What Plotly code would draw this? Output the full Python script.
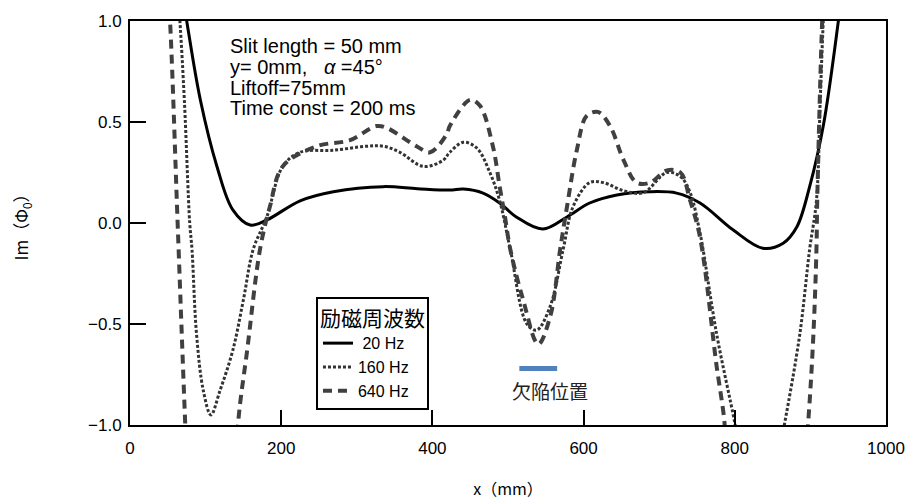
import plotly.graph_objects as go

# ---- data ----
x_20 = [60, 75, 93, 115, 136, 159, 181, 225, 269, 335, 380, 423, 441, 467, 489, 511,
        546, 578, 608, 644, 688, 723, 754, 798, 837, 864, 882, 899, 917, 937, 950]
y_20 = [1.35, 1.0, 0.61, 0.28, 0.065, -0.01, 0.015, 0.11, 0.155, 0.18, 0.17, 0.163, 0.168,
        0.148, 0.099, 0.03, -0.03, 0.03, 0.099, 0.139, 0.155, 0.148, 0.099, -0.035, -0.125,
        -0.1, -0.02, 0.18, 0.48, 1.0, 1.4]

x_160 = [60, 66, 72, 79, 82, 88, 97, 107, 119, 136, 150, 163, 181, 202, 225, 269, 313, 335,
         357, 388, 414, 423, 441, 459, 476, 489, 503, 525, 538, 556, 573, 586, 608, 626, 653,
         679, 710, 728, 741, 754, 758, 776, 800, 810, 833, 855, 866, 886, 899, 908, 913, 917, 922]
y_160 = [1.3, 1.0, 0.6, 0.0, -0.13, -0.55, -0.83, -0.95, -0.83, -0.63, -0.38, -0.13, 0.03,
         0.28, 0.35, 0.36, 0.38, 0.38, 0.35, 0.28, 0.31, 0.35, 0.40, 0.37, 0.25, 0.11, -0.13,
         -0.5, -0.53, -0.41, -0.13, 0.08, 0.2, 0.2, 0.16, 0.15, 0.25, 0.23, 0.15, -0.05, -0.13,
         -0.55, -0.99, -1.2, -1.5, -1.2, -0.99, -0.55, -0.13, 0.11, 0.61, 1.0, 1.4]

x_640 = [45, 53, 63, 73, 80, 108, 135, 143, 155, 172, 185, 202, 247, 291, 326, 340, 379, 397,
         419, 423, 450, 463, 480, 489, 496, 503, 520, 540, 556, 569, 578, 591, 604, 619, 635,
         653, 670, 688, 710, 728, 741, 754, 776, 785, 795, 840, 885, 897, 904, 908, 909, 915, 920]
y_640 = [1.5, 1.0, 0.0, -0.99, -1.6, -1.9, -1.6, -0.99, -0.63, -0.13, 0.08, 0.28, 0.38, 0.41,
         0.48, 0.47, 0.38, 0.35, 0.44, 0.48, 0.61, 0.58, 0.38, 0.18, 0.03, -0.13, -0.38, -0.6,
         -0.46, -0.13, 0.08, 0.36, 0.53, 0.55, 0.48, 0.31, 0.2, 0.2, 0.26, 0.25, 0.11, -0.07,
         -0.71, -0.94, -1.3, -1.9, -1.5, -0.99, -0.55, -0.13, 0.1, 0.94, 1.4]

defect_x = [515, 565]
defect_y = [-0.72, -0.72]

x_ticks = [0, 200, 400, 600, 800, 1000]
y_ticks = [-1.0, -0.5, 0.0, 0.5, 1.0]

info_lines = ["Slit length = 50 mm",
              "y= 0mm,\u00a0\u00a0 <i>α</i> =45°",
              "Liftoff=75mm",
              "Time const = 200 ms"]
info_y = [0.876, 0.772, 0.666, 0.567]

LAT = "Arial, Liberation Sans, sans-serif"
JP = "Noto Sans CJK JP"

fig = go.Figure()
fig.add_trace(go.Scatter(x=x_20, y=y_20, mode="lines", name="\u00a020 Hz",
                         line=dict(color="black", width=3, shape="spline", smoothing=1)))
fig.add_trace(go.Scatter(x=x_160, y=y_160, mode="lines", name="160 Hz",
                         line=dict(color="#333333", width=3, dash="3px,2px", shape="spline", smoothing=1)))
fig.add_trace(go.Scatter(x=x_640, y=y_640, mode="lines", name="640 Hz",
                         line=dict(color="#404040", width=4, dash="9px,6px", shape="spline", smoothing=1)))
fig.add_trace(go.Scatter(x=defect_x, y=defect_y, mode="lines", showlegend=False,
                         line=dict(color="#4f81bd", width=5)))

for t, yy in zip(info_lines, info_y):
    fig.add_annotation(x=130, y=yy, xref="x", yref="y", text=t, showarrow=False,
                       xanchor="left", yanchor="middle",
                       font=dict(family=LAT, size=20, color="black"))

fig.add_annotation(x=556, y=-0.83, xref="x", yref="y", text="欠陥位置", showarrow=False,
                   xanchor="center", yanchor="middle",
                   font=dict(family=JP, size=19, color="#222222"))

fig.update_layout(
    width=909, height=500,
    margin=dict(l=130, r=23, t=21, b=75, autoexpand=False),
    paper_bgcolor="white", plot_bgcolor="white",
    showlegend=True,
    legend=dict(x=0.246, y=0.317, xanchor="left", yanchor="top",
                bordercolor="black", borderwidth=2, bgcolor="white",
                font=dict(family=LAT, size=16, color="black"),
                title=dict(text="励磁周波数", font=dict(family=JP, size=21, color="black"))),
)
fig.update_xaxes(range=[0, 1000], tickvals=x_ticks, ticktext=[str(v) for v in x_ticks],
                 ticks="inside", ticklen=15, tickwidth=2, tickcolor="black",
                 showline=True, linecolor="black", linewidth=2, mirror=True,
                 showgrid=False, zeroline=False, ticklabelstandoff=7, automargin=False,
                 tickfont=dict(family=LAT, size=17, color="black"),
                 title=dict(text="x（mm）", font=dict(family=JP, size=16, color="black"), standoff=29))
fig.update_yaxes(range=[-1, 1], tickvals=y_ticks, tickformat=".1f",
                 ticks="inside", ticklen=16, tickwidth=2, tickcolor="black",
                 showline=True, linecolor="black", linewidth=2, mirror=True,
                 showgrid=False, zeroline=False, ticklabelstandoff=3, automargin=False,
                 tickfont=dict(family=LAT, size=17, color="black"),
                 title=dict(text="Im（Φ<sub>0</sub>）", font=dict(family=JP, size=17, color="black"), standoff=55))

fig.write_html("out.html")
